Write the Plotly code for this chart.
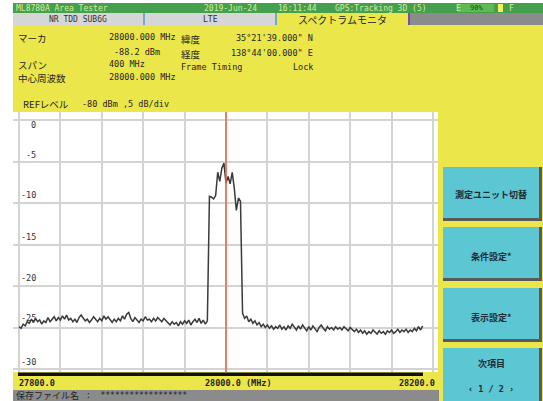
import plotly.graph_objects as go

# ---------------- data ----------------
freq_start_mhz = 27800
freq_step_mhz = 2
level_left = [
    -24.9, -25.1, -24.6, -24.8, -24.3, -24.5, -24.0, -24.4, -23.9, -24.3,
    -24.1, -24.6, -24.2, -24.4, -23.8, -24.3, -24.0, -23.7, -24.2, -23.8,
    -24.1, -23.6, -24.0, -23.5, -24.1, -23.9, -24.3, -24.0, -24.4, -23.8,
    -23.5, -23.9, -24.2, -24.0, -24.4, -24.1, -23.7, -24.0, -24.3, -23.9,
    -24.2, -23.6, -24.0, -23.7, -24.1, -24.4, -24.0, -24.3, -23.9, -24.2,
    -23.6, -24.0, -23.4, -23.2, -23.9, -24.3, -23.8, -24.1, -24.4, -24.0,
    -24.2, -23.7, -24.1, -24.0, -24.3, -23.9, -24.2, -23.8, -24.1, -24.3,
    -23.9, -24.2, -24.5, -24.7, -24.3, -24.6, -24.4, -24.8, -24.3, -24.6,
    -24.2, -24.5, -24.1, -24.7, -24.3, -24.0, -24.4, -23.9, -24.5, -24.1,
    -24.6, -24.2,
]
level_signal = [
    -9.2, -9.3, -9.5, -9.1, -6.3, -7.4, -5.8, -5.2, -7.6, -6.8,
    -7.7, -6.3, -8.2, -10.9, -9.4, -9.8,
]
level_right = [
    -23.3, -23.9, -23.6, -24.3, -24.0, -24.5, -24.2, -24.7, -24.4, -24.9,
    -24.6, -25.0, -24.7, -25.1, -24.8, -25.2, -24.9, -25.1, -24.7, -25.2,
    -24.9, -25.3, -24.8, -25.1, -24.6, -25.0, -25.3, -24.8, -25.2, -24.7,
    -25.1, -25.4, -24.9, -25.3, -24.8, -25.2, -25.5, -25.0, -24.7, -25.1,
    -25.4, -24.9, -25.2, -25.0, -25.3, -24.9, -25.2, -25.0, -25.3, -24.9,
    -25.2, -25.4, -25.0, -25.3, -25.5, -25.2, -25.6, -25.3, -25.7, -25.4,
    -25.8, -25.5, -25.7, -25.3, -25.6, -25.8, -25.4, -25.7, -25.5, -25.8,
    -25.4, -25.6, -25.3, -25.7, -25.5, -25.2, -25.6, -25.3, -25.5, -25.2,
    -25.6, -25.3, -25.5, -25.1, -25.4, -24.9, -25.3, -24.8,
]
levels = level_left + level_signal + level_right
freqs = [freq_start_mhz + freq_step_mhz * i for i in range(len(levels))]

marker_freq = 28000
x_tick_labels = ["27800.0", "28000.0 (MHz)", "28200.0"]
y_tick_values = [0, -5, -10, -15, -20, -25, -30]
y_tick_labels = ["0", "-5", "-10", "-15", "-20", "-25", "-30"]
grid_x = [27800 + 40 * i for i in range(11)]

# ---------------- layout helpers ----------------
W, H = 543, 401
PL, PR, PT, PB = 13, 438, 112, 372


def X(px):
    return (px - PL) / (PR - PL)


def Y(py):
    return (PB - py) / (PB - PT)


YELLOW = "#ebe64a"
GREEN = "#44a04e"
CYAN = "#5cc6d3"
GRAY = "#8b8b8b"
MONO = "DejaVu Sans Mono, Noto Sans CJK JP"
JP = "Noto Sans CJK JP, DejaVu Sans"
INK = "#1f1f1f"

shapes = []


def rect(x0, y0, x1, y1, color):
    shapes.append(dict(type="rect", xref="paper", yref="paper",
                       x0=X(x0), x1=X(x1), y0=Y(y1), y1=Y(y0),
                       fillcolor=color, line=dict(width=0), layer="above"))


annotations = []


def txt(px, py, s, size=8.5, anchor="left", color=INK, family=MONO):
    annotations.append(dict(x=X(px), y=Y(py), xref="paper", yref="paper",
                            text=s, showarrow=False, xanchor=anchor, yanchor="middle",
                            font=dict(size=size, color=color, family=family)))


# frame outside screen
rect(0, 0, 13, 401, "white")
rect(0, 0, 543, 3, "white")
# top status bar
rect(13, 3, 543, 13, GREEN)
rect(458, 4, 494, 12, "#5cbc52")
rect(498, 4, 503, 12, "#f2ef60")
# tabs
rect(13, 13, 143, 25, "#d6d6d6")
rect(143, 13, 145, 25, "#7aa6cc")
rect(145, 13, 275, 25, "#d6d6d6")
rect(275, 13, 277, 25, "#7aa6cc")
rect(408, 13, 410, 25, "#7a4fa8")
rect(410, 13, 543, 25, GRAY)
# black bar under plot
rect(18, 372.5, 423, 376, "#111111")
# bottom status bar
rect(13, 390, 439, 401, GRAY)
# buttons
for (b0, b1) in [(167, 218), (227, 278), (288, 339), (348, 404)]:
    rect(443, b0, 542, b1 + 3, "#5a5a5a")
    rect(443, b0, 539, b1, CYAN)
# marker line
shapes.append(dict(type="line", xref="x", yref="paper", x0=marker_freq, x1=marker_freq,
                   y0=0, y1=1, line=dict(color="#f0604a", width=1.5), layer="above"))

# status bar texts
SB = "#d4ee9c"
txt(14, 8, "ML8780A Area Tester", 8, color=SB)
txt(202, 8, "2019-Jun-24", 8, color=SB)
txt(276, 8, "16:11:44", 8, color=SB)
txt(333, 8, "GPS:Tracking 3D (5)", 8, color=SB)
txt(454, 8, "E", 8, color=SB)
txt(476, 8, "90%", 7, anchor="center", color="#1f4a1f")
txt(507, 8, "F", 8, color=SB)
# tab texts
txt(78, 19.5, "NR TDD SUB6G", 8, anchor="center", color="#333333")
txt(210, 19.5, "LTE", 8, anchor="center", color="#333333")
txt(342, 19.5, "スペクトラムモニタ", 10, anchor="center", family=JP)

# header info
txt(16, 38, "マーカ", 9.5, family=JP)
txt(107, 37, "28000.000 MHz", 8.5)
txt(179, 39, "緯度", 9.5, family=JP)
txt(315, 38, "35°21'39.000\" N", 8.5, anchor="right")
txt(112, 52, "-88.2 dBm", 8.5)
txt(179, 54, "経度", 9.5, family=JP)
txt(315, 53, "138°44'00.000\" E", 8.5, anchor="right")
txt(16, 65, "スパン", 9.5, family=JP)
txt(107, 64, "400 MHz", 8.5)
txt(179, 67, "Frame Timing", 8.5)
txt(315, 67, "Lock", 8.5, anchor="right")
txt(16, 78, "中心周波数", 9.5, family=JP)
txt(107, 77, "28000.000 MHz", 8.5)
txt(21, 104, "REFレベル", 9.5, family=JP)
txt(80, 104, "-80 dBm ,5 dB/div", 8.5)

# y tick labels (inside plot)
ylab_px = [125, 155, 195, 237, 278, 318, 362]
for lab, ypx in zip(y_tick_labels, ylab_px):
    txt(37.5, ypx, lab, 8.5, anchor="right", color="#333333")

# x labels
txt(17, 383, "<b>" + x_tick_labels[0] + "</b>", 8.5)
txt(203, 383, "<b>" + x_tick_labels[1] + "</b>", 8.5)
txt(437, 383, "<b>" + x_tick_labels[2] + "</b>", 8.5, anchor="right")

# bottom bar
txt(14, 395.5, "保存ファイル名", 9, family=JP, color="#222222")
txt(84, 395.5, ":  ******************", 8, color="#222222")

# buttons
BT = "#1d2a30"
txt(491, 194, "<b>測定ユニット切替</b>", 9, anchor="center", family=JP, color=BT)
txt(491, 256, "<b>条件設定*</b>", 9, anchor="center", family=JP, color=BT)
txt(491, 317, "<b>表示設定*</b>", 9, anchor="center", family=JP, color=BT)
txt(491, 363, "<b>次項目</b>", 9, anchor="center", family=JP, color=BT)
txt(491, 389, "<b>‹ 1 / 2 ›</b>", 8.5, anchor="center", color=BT)

fig = go.Figure()
fig.add_trace(go.Scatter(x=freqs, y=levels, mode="lines",
                         line=dict(color="#3a3a3a", width=1.5), hoverinfo="skip"))

px_per_mhz = (433 - 19) / 400
px_per_db = (369 - 120) / 30
fig.update_layout(
    width=W, height=H,
    margin=dict(l=PL, r=W - PR, t=PT, b=H - PB, pad=0),
    paper_bgcolor=YELLOW, plot_bgcolor="white",
    showlegend=False,
    shapes=shapes, annotations=annotations,
    xaxis=dict(range=[27800 - (19 - PL) / px_per_mhz, 28200 + (PR - 433) / px_per_mhz],
               tickvals=grid_x, showticklabels=False, ticks="",
               showgrid=True, gridcolor="#d3d3d3", gridwidth=1.5,
               zeroline=False, showline=False, fixedrange=True),
    yaxis=dict(range=[-30 - (PB - 369) / px_per_db, 0 + (120 - PT) / px_per_db],
               tickvals=y_tick_values, showticklabels=False, ticks="",
               showgrid=True, gridcolor="#d3d3d3", gridwidth=1.5,
               zeroline=False, showline=False, fixedrange=True),
)

fig.write_html("out.html", config={"displayModeBar": False},
               post_script="document.body.style.margin='0';document.body.style.overflow='hidden';")
